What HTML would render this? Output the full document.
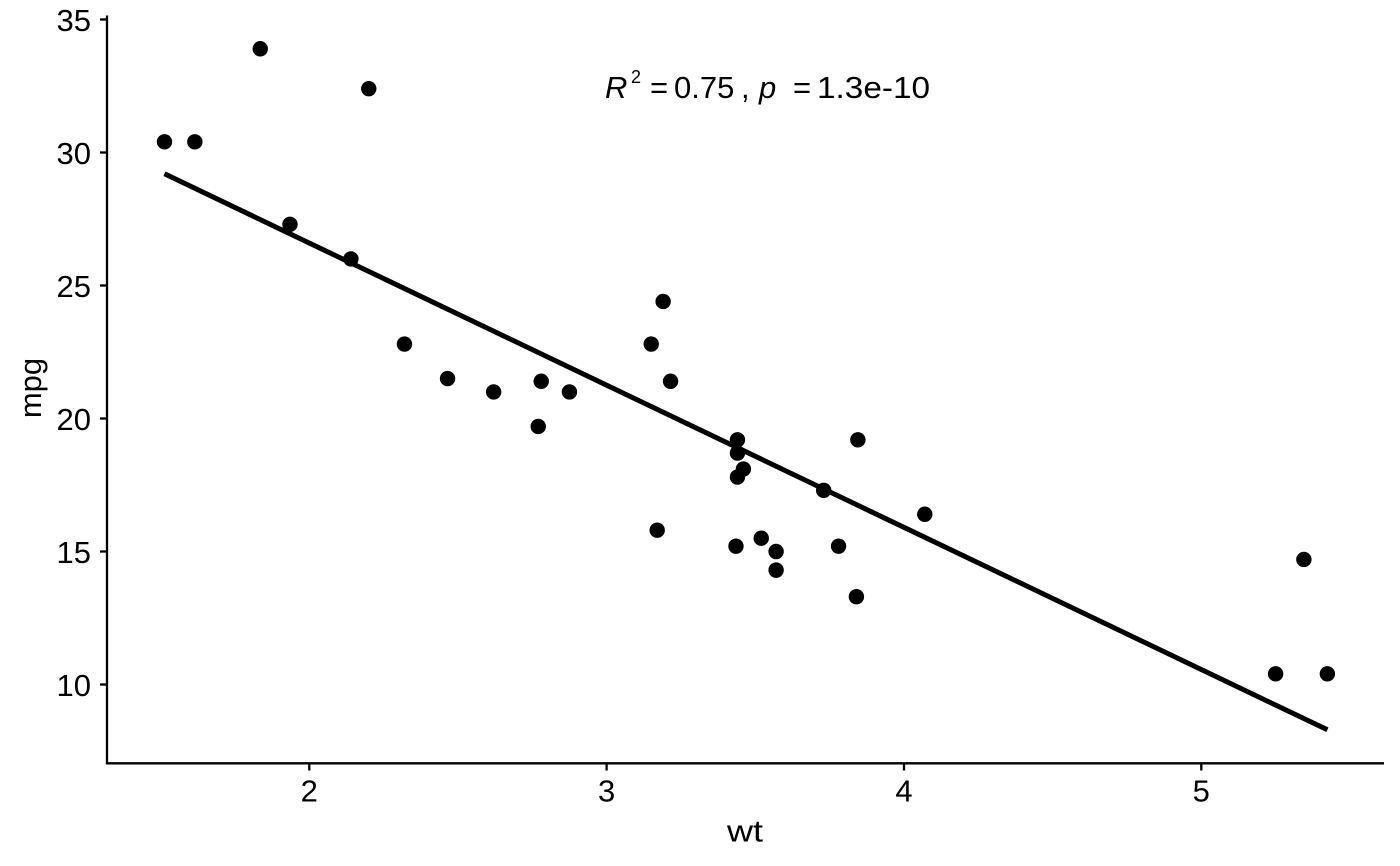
<!DOCTYPE html>
<html>
<head>
<meta charset="utf-8">
<style>
  html, body { margin: 0; padding: 0; background: #ffffff; }
  svg { display: block; }
  text { font-family: "Liberation Sans", "DejaVu Sans", sans-serif; fill: #000; }
</style>
</head>
<body>
<svg width="1400" height="866" viewBox="0 0 1400 866" xmlns="http://www.w3.org/2000/svg">
  <rect x="0" y="0" width="1400" height="866" fill="#ffffff"/>

  <!-- regression line -->
  <line x1="164.5" y1="173.8" x2="1327.4" y2="729.8" stroke="#000" stroke-width="5" stroke-linecap="butt"/>

  <!-- points -->
  <g fill="#000">
    <circle cx="493.65" cy="391.9" r="7.7"/>
    <circle cx="569.46" cy="391.9" r="7.7"/>
    <circle cx="404.45" cy="344.02" r="7.7"/>
    <circle cx="670.56" cy="381.26" r="7.7"/>
    <circle cx="737.46" cy="453.08" r="7.7"/>
    <circle cx="743.40" cy="469.04" r="7.7"/>
    <circle cx="776.11" cy="570.12" r="7.7"/>
    <circle cx="663.12" cy="301.46" r="7.7"/>
    <circle cx="651.23" cy="344.02" r="7.7"/>
    <circle cx="737.46" cy="439.78" r="7.7"/>
    <circle cx="737.46" cy="477.02" r="7.7"/>
    <circle cx="924.77" cy="514.26" r="7.7"/>
    <circle cx="823.68" cy="490.32" r="7.7"/>
    <circle cx="838.55" cy="546.18" r="7.7"/>
    <circle cx="1275.62" cy="673.86" r="7.7"/>
    <circle cx="1327.36" cy="673.86" r="7.7"/>
    <circle cx="1303.87" cy="559.48" r="7.7"/>
    <circle cx="368.77" cy="88.66" r="7.7"/>
    <circle cx="194.83" cy="141.86" r="7.7"/>
    <circle cx="260.24" cy="48.76" r="7.7"/>
    <circle cx="447.56" cy="378.6" r="7.7"/>
    <circle cx="761.24" cy="538.2" r="7.7"/>
    <circle cx="735.97" cy="546.18" r="7.7"/>
    <circle cx="856.39" cy="596.72" r="7.7"/>
    <circle cx="857.87" cy="439.78" r="7.7"/>
    <circle cx="289.97" cy="224.32" r="7.7"/>
    <circle cx="350.93" cy="258.9" r="7.7"/>
    <circle cx="164.50" cy="141.86" r="7.7"/>
    <circle cx="657.18" cy="530.22" r="7.7"/>
    <circle cx="538.24" cy="426.48" r="7.7"/>
    <circle cx="776.11" cy="551.5" r="7.7"/>
    <circle cx="541.22" cy="381.26" r="7.7"/>
  </g>

  <!-- axes -->
  <g stroke="#000" stroke-width="2.3" fill="none">
    <line x1="107" y1="15.5" x2="107" y2="764.4"/>
    <line x1="105.9" y1="763.3" x2="1384" y2="763.3"/>
    <!-- y ticks -->
    <line x1="100" y1="19.5" x2="107" y2="19.5"/>
    <line x1="100" y1="152.5" x2="107" y2="152.5"/>
    <line x1="100" y1="285.5" x2="107" y2="285.5"/>
    <line x1="100" y1="418.5" x2="107" y2="418.5"/>
    <line x1="100" y1="551.5" x2="107" y2="551.5"/>
    <line x1="100" y1="684.5" x2="107" y2="684.5"/>
    <!-- x ticks -->
    <line x1="309.3" y1="763.3" x2="309.3" y2="770.5"/>
    <line x1="606.6" y1="763.3" x2="606.6" y2="770.5"/>
    <line x1="904.0" y1="763.3" x2="904.0" y2="770.5"/>
    <line x1="1201.3" y1="763.3" x2="1201.3" y2="770.5"/>
  </g>

  <!-- y tick labels -->
  <g font-size="31" text-anchor="end">
    <text x="91" y="31">35</text>
    <text x="91" y="164">30</text>
    <text x="91" y="297">25</text>
    <text x="91" y="430">20</text>
    <text x="91" y="563">15</text>
    <text x="91" y="696">10</text>
  </g>

  <!-- x tick labels -->
  <g font-size="31" text-anchor="middle">
    <text x="309.3" y="801.5">2</text>
    <text x="606.6" y="801.5">3</text>
    <text x="904.0" y="801.5">4</text>
    <text x="1201.3" y="801.5">5</text>
  </g>

  <!-- axis titles -->
  <text x="727" y="841.5" font-size="31" textLength="36" lengthAdjust="spacingAndGlyphs">wt</text>
  <text x="0" y="0" font-size="31" text-anchor="middle" transform="translate(41,388) rotate(-90)">mpg</text>

  <!-- annotation -->
  <g font-size="31">
    <text x="605" y="98" font-style="italic">R</text>
    <text x="631" y="83" font-size="18">2</text>
    <text x="650" y="98">=</text>
    <text x="674" y="98">0.75</text>
    <text x="741" y="98">,</text>
    <text x="759" y="98" font-style="italic">p</text>
    <text x="793" y="98">=</text>
    <text x="817" y="98" textLength="113" lengthAdjust="spacingAndGlyphs">1.3e-10</text>
  </g>
</svg>
</body>
</html>
